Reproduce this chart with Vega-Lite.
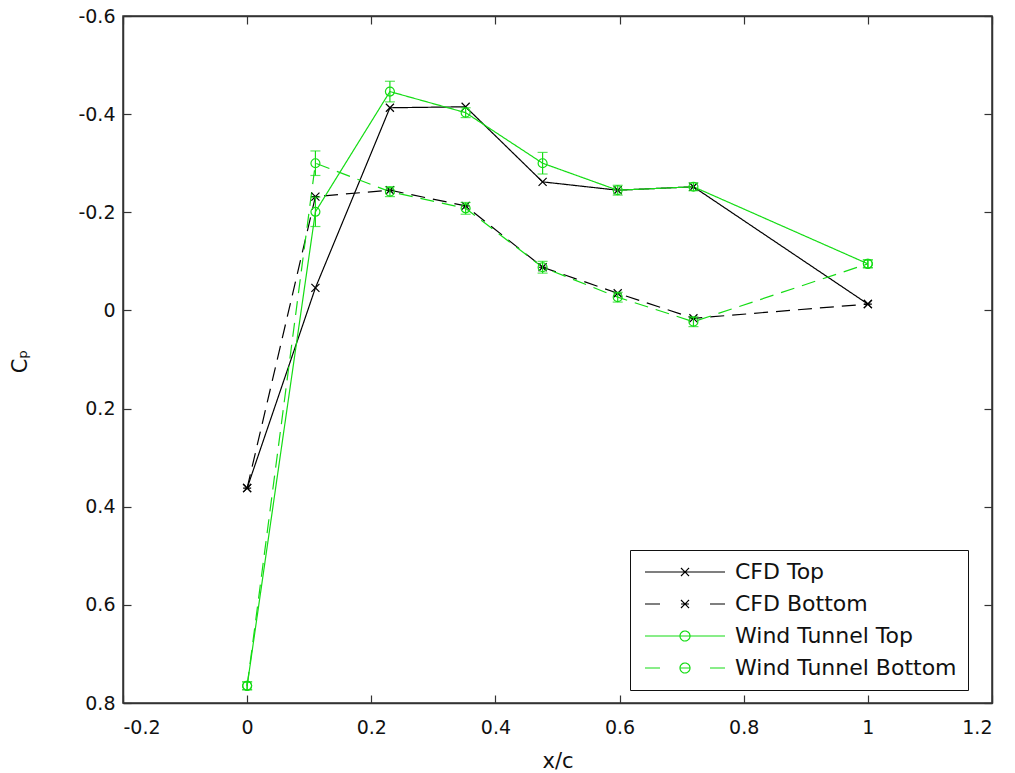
{
  "$schema": "https://vega.github.io/schema/vega-lite/v6.json",
  "autosize": {"type": "none"},
  "width": 869,
  "height": 687,
  "padding": {"left": 123, "top": 16, "right": 23, "bottom": 70},
  "background": "white",
  "config": {
    "view": {"stroke": "#333333", "strokeWidth": 1.5},
    "font": "DejaVu Sans",
    "axis": {
      "grid": false,
      "domainColor": "#333333",
      "domainWidth": 1.5,
      "tickColor": "#333333",
      "tickWidth": 1.2,
      "tickSize": -8,
      "labelFont": "DejaVu Sans",
      "labelFontSize": 19,
      "labelColor": "#111111",
      "titleFont": "DejaVu Sans",
      "titleFontSize": 20,
      "titleFontWeight": "normal",
      "titleColor": "#111111"
    }
  },
  "data": {
    "values": [
      {"series": "CFD Top", "x": 0.0, "cp": 0.362},
      {"series": "CFD Top", "x": 0.110, "cp": -0.046},
      {"series": "CFD Top", "x": 0.230, "cp": -0.413},
      {"series": "CFD Top", "x": 0.352, "cp": -0.415},
      {"series": "CFD Top", "x": 0.476, "cp": -0.262},
      {"series": "CFD Top", "x": 0.597, "cp": -0.245},
      {"series": "CFD Top", "x": 0.719, "cp": -0.252},
      {"series": "CFD Top", "x": 1.0, "cp": -0.013},
      {"series": "CFD Bottom", "x": 0.0, "cp": 0.362},
      {"series": "CFD Bottom", "x": 0.110, "cp": -0.232},
      {"series": "CFD Bottom", "x": 0.230, "cp": -0.245},
      {"series": "CFD Bottom", "x": 0.352, "cp": -0.213},
      {"series": "CFD Bottom", "x": 0.476, "cp": -0.088},
      {"series": "CFD Bottom", "x": 0.597, "cp": -0.035},
      {"series": "CFD Bottom", "x": 0.719, "cp": 0.016},
      {"series": "CFD Bottom", "x": 1.0, "cp": -0.013},
      {"series": "Wind Tunnel Top", "x": 0.0, "cp": 0.765, "lo": 0.757, "hi": 0.773},
      {"series": "Wind Tunnel Top", "x": 0.110, "cp": -0.201, "lo": -0.231, "hi": -0.171},
      {"series": "Wind Tunnel Top", "x": 0.230, "cp": -0.446, "lo": -0.467, "hi": -0.425},
      {"series": "Wind Tunnel Top", "x": 0.352, "cp": -0.403, "lo": -0.413, "hi": -0.393},
      {"series": "Wind Tunnel Top", "x": 0.476, "cp": -0.300, "lo": -0.322, "hi": -0.278},
      {"series": "Wind Tunnel Top", "x": 0.597, "cp": -0.245, "lo": -0.255, "hi": -0.235},
      {"series": "Wind Tunnel Top", "x": 0.719, "cp": -0.252, "lo": -0.260, "hi": -0.244},
      {"series": "Wind Tunnel Top", "x": 1.0, "cp": -0.095, "lo": -0.103, "hi": -0.087},
      {"series": "Wind Tunnel Bottom", "x": 0.0, "cp": 0.765, "lo": 0.757, "hi": 0.773},
      {"series": "Wind Tunnel Bottom", "x": 0.110, "cp": -0.300, "lo": -0.325, "hi": -0.275},
      {"series": "Wind Tunnel Bottom", "x": 0.230, "cp": -0.242, "lo": -0.252, "hi": -0.232},
      {"series": "Wind Tunnel Bottom", "x": 0.352, "cp": -0.208, "lo": -0.220, "hi": -0.196},
      {"series": "Wind Tunnel Bottom", "x": 0.476, "cp": -0.088, "lo": -0.100, "hi": -0.076},
      {"series": "Wind Tunnel Bottom", "x": 0.597, "cp": -0.027, "lo": -0.037, "hi": -0.017},
      {"series": "Wind Tunnel Bottom", "x": 0.719, "cp": 0.023, "lo": 0.013, "hi": 0.033},
      {"series": "Wind Tunnel Bottom", "x": 1.0, "cp": -0.095, "lo": -0.103, "hi": -0.087}
    ]
  },
  "resolve": {"axis": {"x": "independent", "y": "independent"}},
  "layer": [
    {
      "mark": {"type": "line", "strokeWidth": 1.2, "clip": true},
      "encoding": {
        "x": {
          "field": "x", "type": "quantitative",
          "scale": {"domain": [-0.2, 1.2], "nice": false, "zero": false},
          "axis": {
            "values": [-0.2, 0, 0.2, 0.4, 0.6, 0.8, 1, 1.2],
            "format": "~g",
            "labelExpr": "replace(datum.label, '\u2212', '-')",
            "labelPadding": 23,
            "title": "x/c",
            "titleFontSize": 21,
            "titlePadding": 13
          }
        },
        "y": {
          "field": "cp", "type": "quantitative",
          "scale": {"domain": [-0.6, 0.8], "nice": false, "zero": false, "reverse": true},
          "axis": {
            "values": [-0.6, -0.4, -0.2, 0, 0.2, 0.4, 0.6, 0.8],
            "format": "~g",
            "labelExpr": "replace(datum.label, '\u2212', '-')",
            "labelPadding": 16,
            "title": "C\u209a",
            "titleX": -103,
            "titleY": 345,
            "titleAlign": "center",
            "titleBaseline": "middle",
            "titleFontSize": 21
          }
        },
        "color": {
          "field": "series", "type": "nominal",
          "scale": {
            "domain": ["CFD Top", "CFD Bottom", "Wind Tunnel Top", "Wind Tunnel Bottom"],
            "range": ["#000000", "#000000", "#14dc14", "#14dc14"]
          },
          "legend": {
            "orient": "none",
            "legendX": 507,
            "legendY": 534,
            "title": null,
            "padding": 11,
            "strokeColor": "#111111",
            "fillColor": "white",
            "labelFont": "DejaVu Sans",
            "labelFontSize": 22,
            "labelColor": "#111111",
            "labelLimit": 0,
            "clipHeight": 22,
            "rowPadding": 10,
            "symbolSize": 100,
            "symbolStrokeWidth": 1.2,
            "encode": {
              "symbols": {
                "update": {
                  "shape": {"signal": "datum.value === 'CFD Top' ? 'M-8,0L8,0M-0.8,-0.8L0.8,0.8M-0.8,0.8L0.8,-0.8' : datum.value === 'CFD Bottom' ? 'M-8,0L-5,0M5,0L8,0M-0.8,-0.8L0.8,0.8M-0.8,0.8L0.8,-0.8M-0.8,0L0.8,0' : datum.value === 'Wind Tunnel Top' ? 'M-8,0L8,0M1,0A1,1 0 1,1 -1,0A1,1 0 1,1 1,0' : 'M-8,0L-5,0M5,0L8,0M1,0A1,1 0 1,1 -1,0A1,1 0 1,1 1,0M-1,0L1,0'"},
                  "x": {"value": 44},
                  "y": {"value": 11},
                  "strokeDash": {"value": [1, 0]},
                  "fill": {"value": "transparent"},
                  "strokeWidth": {"value": 1.2}
                }
              },
              "labels": {
                "update": {
                  "x": {"value": 94},
                  "y": {"value": 11},
                  "baseline": {"value": "middle"}
                }
              }
            }
          }
        },
        "strokeDash": {
          "field": "series", "type": "nominal",
          "scale": {
            "range": [[14, 8], [1, 0], [14, 8], [1, 0]]
          },
          "legend": null
        }
      }
    },
    {
      "mark": {"type": "point", "filled": false, "strokeWidth": 1.2, "size": 80, "opacity": 1, "clip": true},
      "encoding": {
        "x": {
          "field": "x", "type": "quantitative",
          "axis": {"orient": "top", "values": [-0.2, 0, 0.2, 0.4, 0.6, 0.8, 1, 1.2], "labels": false, "title": null}
        },
        "y": {
          "field": "cp", "type": "quantitative",
          "axis": {"orient": "right", "values": [-0.6, -0.4, -0.2, 0, 0.2, 0.4, 0.6, 0.8], "labels": false, "title": null}
        },
        "color": {"field": "series", "type": "nominal"},
        "shape": {
          "field": "series", "type": "nominal",
          "scale": {
            "range": [
              "M-0.9,-0.9L0.9,0.9M-0.9,0.9L0.9,-0.9M-0.9,0L0.9,0",
              "M-0.9,-0.9L0.9,0.9M-0.9,0.9L0.9,-0.9",
              "circle",
              "circle"
            ]
          },
          "legend": null
        }
      }
    },
    {
      "transform": [{"filter": "isValid(datum.lo)"}],
      "mark": {"type": "rule", "strokeWidth": 1.2, "color": "#14dc14", "clip": true},
      "encoding": {
        "x": {"field": "x", "type": "quantitative", "axis": null},
        "y": {"field": "lo", "type": "quantitative", "axis": null},
        "y2": {"field": "hi"}
      }
    },
    {
      "transform": [{"filter": "isValid(datum.lo)"}],
      "mark": {"type": "tick", "orient": "horizontal", "size": 10, "thickness": 1.2, "color": "#14dc14", "clip": true},
      "encoding": {
        "x": {"field": "x", "type": "quantitative", "axis": null},
        "y": {"field": "lo", "type": "quantitative", "axis": null}
      }
    },
    {
      "transform": [{"filter": "isValid(datum.hi)"}],
      "mark": {"type": "tick", "orient": "horizontal", "size": 10, "thickness": 1.2, "color": "#14dc14", "clip": true},
      "encoding": {
        "x": {"field": "x", "type": "quantitative", "axis": null},
        "y": {"field": "hi", "type": "quantitative", "axis": null}
      }
    }
  ]
}
